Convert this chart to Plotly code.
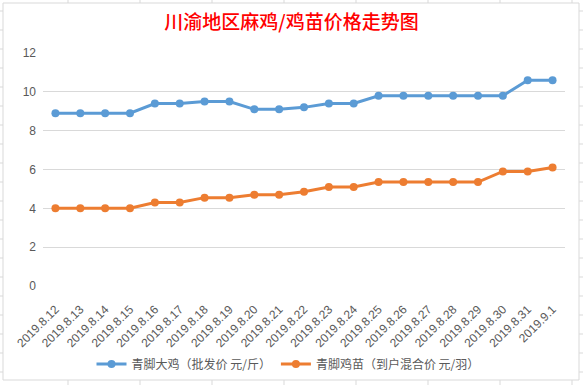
import plotly.graph_objects as go

dates = ["2019.8.12", "2019.8.13", "2019.8.14", "2019.8.15", "2019.8.16", "2019.8.17",
         "2019.8.18", "2019.8.19", "2019.8.20", "2019.8.21", "2019.8.22", "2019.8.23",
         "2019.8.24", "2019.8.25", "2019.8.26", "2019.8.27", "2019.8.28", "2019.8.29",
         "2019.8.30", "2019.8.31", "2019.9.1"]
big_chicken = [8.9, 8.9, 8.9, 8.9, 9.4, 9.4, 9.5, 9.5, 9.1, 9.1, 9.2, 9.4, 9.4,
               9.8, 9.8, 9.8, 9.8, 9.8, 9.8, 10.6, 10.6]
chick = [4.0, 4.0, 4.0, 4.0, 4.3, 4.3, 4.55, 4.55, 4.7, 4.7, 4.85, 5.1, 5.1,
         5.35, 5.35, 5.35, 5.35, 5.35, 5.9, 5.9, 6.1]
series_names = ["青脚大鸡（批发价 元/斤）", "青脚鸡苗（到户混合价 元/羽）"]
title_text = "川渝地区麻鸡/鸡苗价格走势图"

BLUE = "#5B9BD5"
ORANGE = "#ED7D31"
GRID = "#D9D9D9"
TXT = "#595959"

W, H = 583, 385
L, R, T, B = 43, 565, 53, 286  # plot area pixel box


def px(x):
    return (x - L) / (R - L)


def py(y):
    return (B - y) / (B - T)


fig = go.Figure()
fig.add_trace(go.Scatter(x=dates, y=big_chicken, name=series_names[0], mode="lines+markers",
                         line=dict(color=BLUE, width=3), marker=dict(size=8, color=BLUE)))
fig.add_trace(go.Scatter(x=dates, y=chick, name=series_names[1], mode="lines+markers",
                         line=dict(color=ORANGE, width=3), marker=dict(size=8, color=ORANGE)))

shapes = []
# Excel sheet cell gridlines visible outside the chart frame
for xv in [68, 140, 212, 284, 356, 428, 500, 572]:
    shapes.append(dict(type="line", xref="paper", yref="paper", x0=px(xv), x1=px(xv),
                       y0=py(380), y1=py(385), line=dict(color=GRID, width=1), layer="below"))
    shapes.append(dict(type="line", xref="paper", yref="paper", x0=px(xv), x1=px(xv),
                       y0=py(0), y1=py(3), line=dict(color=GRID, width=1), layer="below"))
for yv in range(11, 385, 19):
    shapes.append(dict(type="line", xref="paper", yref="paper", x0=px(0), x1=px(3),
                       y0=py(yv), y1=py(yv), line=dict(color=GRID, width=1), layer="below"))
    shapes.append(dict(type="line", xref="paper", yref="paper", x0=px(579), x1=px(583),
                       y0=py(yv), y1=py(yv), line=dict(color=GRID, width=1), layer="below"))
# chart frame
shapes.append(dict(type="rect", xref="paper", yref="paper", x0=px(3), x1=px(579),
                   y0=py(380), y1=py(3), line=dict(color=GRID, width=1), layer="below"))

fig.update_layout(
    width=W, height=H,
    margin=dict(l=L, r=W - R, t=T, b=H - B, pad=0, autoexpand=False),
    paper_bgcolor="white", plot_bgcolor="white",
    font=dict(family="Liberation Sans, Noto Sans CJK SC", size=12, color=TXT),
    title=dict(text=title_text, x=0.5, xref="container", xanchor="center",
               y=1 - 22 / H, yref="container", yanchor="middle",
               font=dict(family="Noto Sans CJK SC", size=19, color="#FF0000", weight=500)),
    showlegend=True,
    legend=dict(orientation="h", x=px(288), xanchor="center", y=py(364), yanchor="middle",
                font=dict(family="Noto Sans CJK SC", size=12, color=TXT),
                itemwidth=30, bgcolor="rgba(0,0,0,0)"),
    shapes=shapes,
    xaxis=dict(type="category", range=[-0.5, len(dates) - 0.5], tickangle=-45,
               showgrid=False, showline=False, zeroline=False, ticks="", automargin=False,
               ticklabelstandoff=13,
               tickfont=dict(family="Liberation Sans", size=12, color=TXT)),
    yaxis=dict(range=[0, 12], dtick=2, showgrid=True, gridcolor=GRID, gridwidth=1,
               zeroline=False, showline=False, ticks="", ticklabelstandoff=6, automargin=False,
               tickfont=dict(family="Liberation Sans", size=12, color=TXT)),
)

fig.write_html("out.html", config={"displayModeBar": False},
               post_script="document.body.style.margin='0';document.body.style.overflow='hidden';")
